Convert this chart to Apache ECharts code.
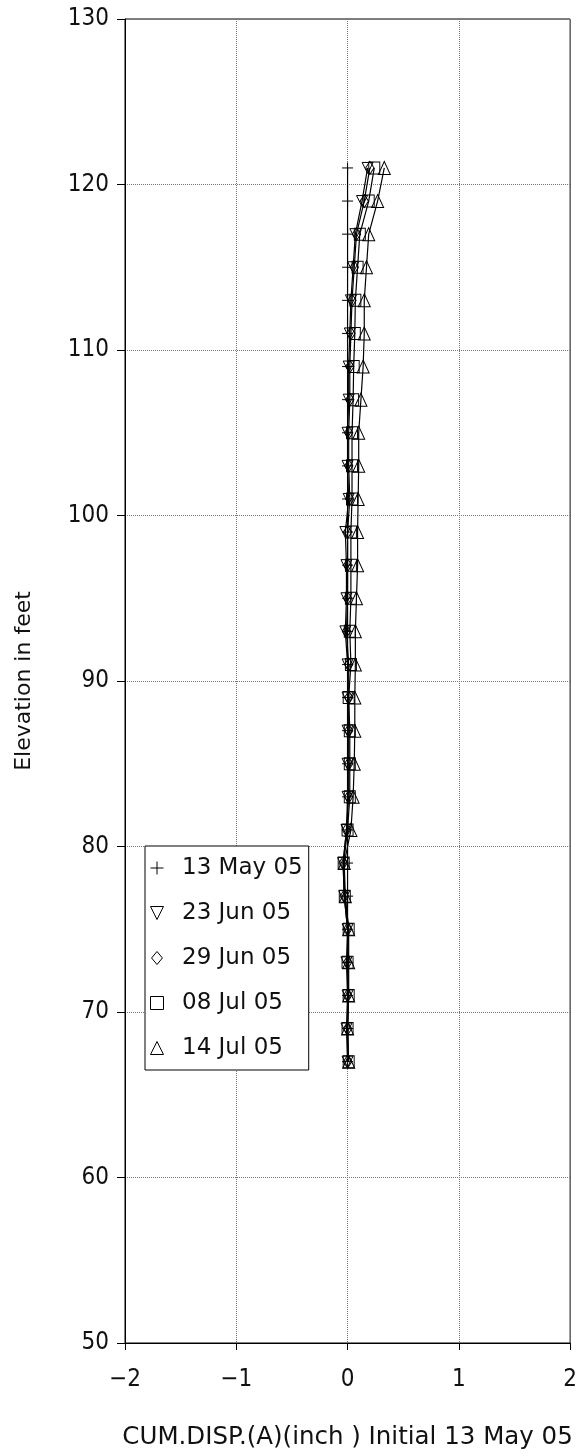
<!DOCTYPE html>
<html>
<head>
<meta charset="utf-8">
<script src="https://cdn.jsdelivr.net/npm/echarts@6/dist/echarts.min.js"></script>
<style>
html,body{margin:0;padding:0;background:#fff;}
#chart{width:580px;height:1456px;}
</style>
</head>
<body>
<div id="chart"></div>
<script>
// Elevations (feet), top to bottom
const elevations = [121,119,117,115,113,111,109,107,105,103,101,99,97,95,93,91,89,87,85,83,81,79,77,75,73,71,69,67];
// Cumulative displacement (inch) per reading
const may13 = [0,0,0,0,0,0,0,0,0,0,0,0,0,0,0,0,0,0,0,0,0,0,0,0,0,0,0,0];
const jun23 = [0.18,0.13,0.07,0.05,0.03,0.02,0.01,0.01,0,0,0.01,-0.02,-0.01,-0.01,-0.02,0,0,0,0,0,-0.01,-0.04,-0.03,0,-0.01,0,-0.01,0];
const jun29 = [0.20,0.15,0.08,0.06,0.04,0.03,0.02,0.02,0.01,0.01,0.02,0,0,0,-0.01,0.01,0.01,0.01,0.01,0.01,-0.01,-0.04,-0.03,0,0,0,0,0];
const jul08 = [0.24,0.19,0.11,0.09,0.07,0.065,0.055,0.05,0.04,0.04,0.04,0.03,0.03,0.03,0.02,0.03,0.01,0.02,0.02,0.02,0,-0.035,-0.025,0.01,0,0.01,0,0.01];
const jul14 = [0.33,0.27,0.19,0.17,0.15,0.15,0.14,0.12,0.10,0.10,0.095,0.09,0.09,0.08,0.07,0.07,0.065,0.065,0.06,0.05,0.03,-0.03,-0.02,0.01,0.01,0.01,0,0.01];

const seriesNames = ['13 May 05','23 Jun 05','29 Jun 05','08 Jul 05','14 Jul 05'];
const seriesValues = [may13, jun23, jun29, jul08, jul14];
const symbols = [
  'path://M5,0L5,10M0,5L10,5',
  'path://M0,0L10,0L5,10Z',
  'path://M5,0L10,6L5,12L0,6Z',
  'path://M0,0L10,0L10,10L0,10Z',
  'path://M5,0L10,10L0,10Z'
];
const symbolSizes = [[11,11],[11,11],[10,13],[11,12],[12,13]];

const xTicks = [-2,-1,0,1,2];
const yTicks = [50,60,70,80,90,100,110,120,130];

const NARROW = "'DejaVu Sans Condensed','Liberation Sans Narrow','Liberation Sans',sans-serif";
const WIDE = "'DejaVu Sans','Liberation Sans',sans-serif";

const chart = echarts.init(document.getElementById('chart'), null, {renderer:'canvas'});

const series = seriesNames.map((name, i) => ({
  name: name,
  type: 'line',
  data: elevations.map((e, k) => [seriesValues[i][k], e]),
  symbol: symbols[i],
  symbolSize: symbolSizes[i],
  symbolKeepAspect: true,
  showAllSymbol: true,
  lineStyle: {color:'#000', width:1.2},
  itemStyle: {color:'rgba(255,255,255,0)', borderColor:'#000', borderWidth:1},
  emphasis: {disabled:true},
  z: 3 + i
}));

chart.setOption({
  animation: false,
  backgroundColor: '#fff',
  grid: {left:125, right:9, top:19, bottom:113, show:true, borderColor:'#000', borderWidth:1, backgroundColor:'transparent'},
  legend: {
    orient: 'vertical',
    left: 145,
    top: 846,
    padding: [10, 6, 10, 5],
    itemGap: 21,
    itemWidth: 20,
    itemHeight: 13,
    borderColor: '#000',
    borderWidth: 1,
    backgroundColor: '#fff',
    data: seriesNames.map((n, i) => ({name:n, icon:symbols[i]})),
    itemStyle: {color:'rgba(255,255,255,0)', borderColor:'#000', borderWidth:1},
    textStyle: {fontFamily: WIDE, fontSize: 23, color:'#111', lineHeight:24, padding:[0,0,0,10]},
    selectedMode: false
  },
  xAxis: {
    type: 'value',
    min: xTicks[0],
    max: xTicks[xTicks.length-1],
    interval: 1,
    name: 'CUM.DISP.(A)(inch ) Initial 13 May 05',
    nameLocation: 'middle',
    nameGap: 82,
    nameTextStyle: {fontFamily: WIDE, fontSize: 24.5, color:'#111'},
    axisLine: {show:true, onZero:false, lineStyle:{color:'#000', width:1}},
    axisTick: {show:true, length:7, lineStyle:{color:'#000'}},
    axisLabel: {fontFamily: NARROW, fontSize: 24, color:'#111', margin: 25,
      formatter: v => String(v).replace('-', '\u2212')},
    splitLine: {show:true, lineStyle:{type:'dotted', color:'#777', width:1}}
  },
  yAxis: {
    type: 'value',
    min: yTicks[0],
    max: yTicks[yTicks.length-1],
    interval: 10,
    name: 'Elevation in feet',
    nameLocation: 'middle',
    nameGap: 90,
    nameTextStyle: {fontFamily: WIDE, fontSize: 22, color:'#111'},
    axisLine: {show:true, onZero:false, lineStyle:{color:'#000', width:1}},
    axisTick: {show:true, length:8, lineStyle:{color:'#000'}},
    axisLabel: {fontFamily: NARROW, fontSize: 24, color:'#111', margin: 16},
    splitLine: {show:true, lineStyle:{type:'dotted', color:'#777', width:1}}
  },
  series: series
});
</script>
</body>
</html>
